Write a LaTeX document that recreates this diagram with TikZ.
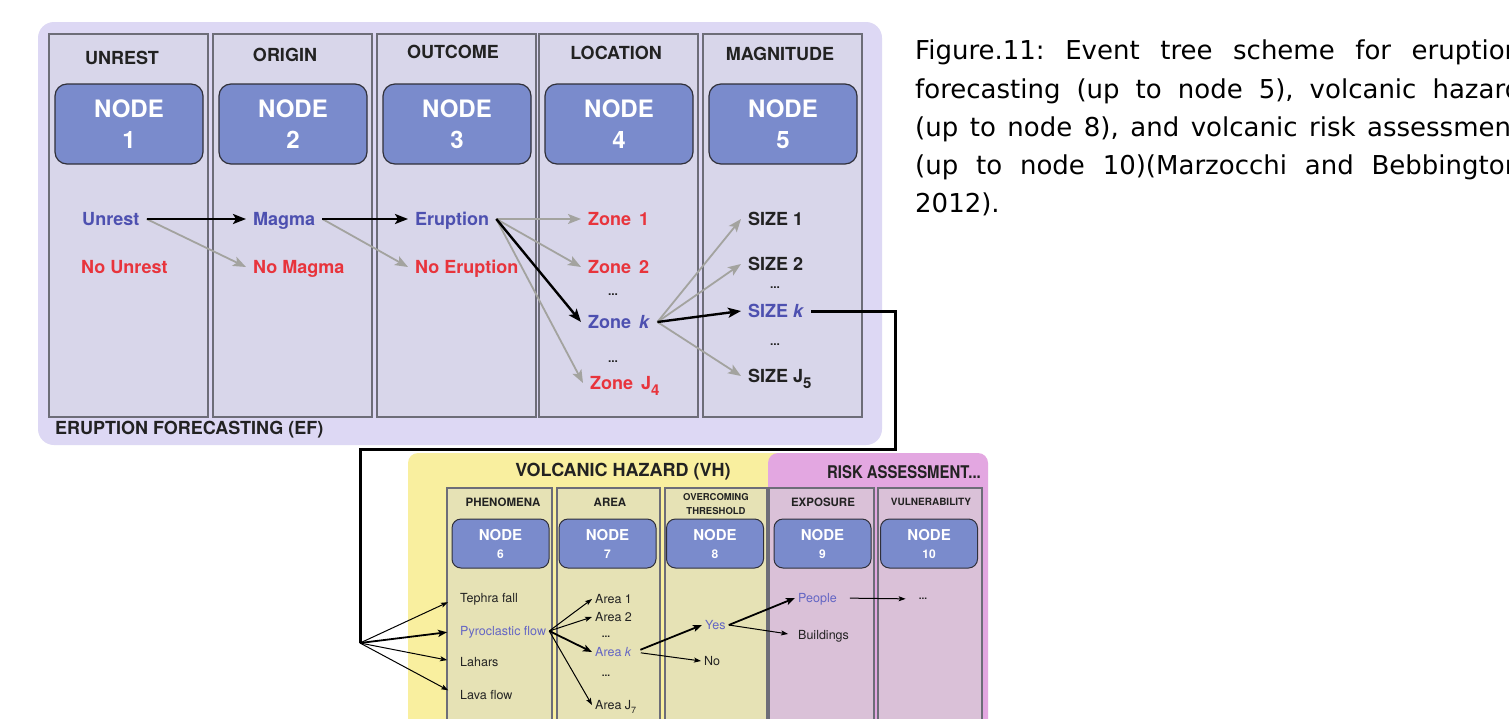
\documentclass[tikz,border=0pt]{standalone}
\usepackage{fontspec}
\setmainfont{TeX Gyre Heros}
\newfontfamily\capfont{DejaVu Sans}
\usetikzlibrary{arrows.meta}
\definecolor{lav}{HTML}{DDD8F4}
\definecolor{colfill}{HTML}{D8D6EA}
\definecolor{colborder}{HTML}{6D6D78}
\definecolor{nodefill}{HTML}{7A8BCC}
\definecolor{nodeborder}{HTML}{30303A}
\definecolor{tblue}{HTML}{4D50B0}
\definecolor{tred}{HTML}{E8343C}
\definecolor{arrgray}{HTML}{A3A39F}
\definecolor{yellowbg}{HTML}{F9EF9F}
\definecolor{ycol}{HTML}{E6E2B5}
\definecolor{pinkbg}{HTML}{E3A7E1}
\definecolor{pcol}{HTML}{DAC1D8}
\definecolor{bblue}{HTML}{6466C4}
\definecolor{hdrtext}{HTML}{222222}
\frenchspacing
\begin{document}
\begin{tikzpicture}[x=1pt,y=-1pt,
  col/.style={draw=colborder, line width=1.2pt},
  nodebox/.style={draw=nodeborder, line width=1.2pt, fill=nodefill, rounded corners=12pt,
    minimum width=148pt, minimum height=80pt, text=white, inner sep=0pt,
    font=\fontsize{24}{31}\selectfont\bfseries, align=center},
  bnodebox/.style={draw=nodeborder, line width=1pt, fill=nodefill, rounded corners=9pt,
    minimum width=97pt, minimum height=49pt, text=white, inner sep=0pt,
    font=\fontsize{15}{18}\selectfont\bfseries, align=center},
  hdr/.style={font=\fontsize{18}{20}\selectfont\bfseries, text=hdrtext, inner sep=0pt},
  bhdr/.style={font=\fontsize{11.5}{13}\selectfont\bfseries, text=hdrtext, inner sep=0pt, align=center},
  titem/.style={font=\fontsize{18}{20}\selectfont\bfseries, anchor=west, inner xsep=7pt,
    inner ysep=0pt, text height=13pt, text depth=0pt},
  tdots/.style={font=\fontsize{12}{12}\selectfont\bfseries, inner sep=1pt, text=hdrtext},
  bitem/.style={font=\fontsize{12.5}{14}\selectfont, anchor=west, inner xsep=3pt,
    inner ysep=0pt, text height=9pt, text depth=0pt, text=hdrtext},
  bdots/.style={font=\fontsize{10}{10}\selectfont\bfseries, inner sep=1pt, text=hdrtext},
  blackarr/.style={-{Stealth[length=13pt,width=10pt,inset=3pt]}, line width=2.4pt, black},
  grayarr/.style={-{Stealth[length=13pt,width=10pt,inset=3pt]}, line width=1.8pt, arrgray},
  thinarr/.style={-{Stealth[length=7pt,width=5pt,inset=1.5pt]}, line width=1pt, black},
  thickarr/.style={-{Stealth[length=9pt,width=7pt,inset=2pt]}, line width=1.8pt, black},
  capline/.style={anchor=base west, inner sep=0pt, font=\capfont\fontsize{26}{30}\selectfont, text=black}
]
\useasboundingbox (0,0) rectangle (1509,718);
\clip (0,0) rectangle (1509,718);
\fill[white] (0,0) rectangle (1509,718);

% ---------------- Top panel: eruption forecasting ----------------
\fill[lav, rounded corners=16pt] (38,22) rectangle (882,445);
\foreach \l in {49,213,377,539,703}{
  \draw[col, fill=colfill] (\l,34) rectangle ({\l+159},417);
}
\node[hdr] (h1) at (122,58) {UNREST};
\node[hdr] (h2) at (285,55) {ORIGIN};
\node[hdr] (h3) at (453,52) {OUTCOME};
\node[hdr] (h4) at (616,53) {LOCATION};
\node[hdr] (h5) at (780,54) {MAGNITUDE};

\node[nodebox] (n1) at (129,124) {NODE\\1};
\node[nodebox] (n2) at (293,124) {NODE\\2};
\node[nodebox] (n3) at (457,124) {NODE\\3};
\node[nodebox] (n4) at (619,124) {NODE\\4};
\node[nodebox] (n5) at (783,124) {NODE\\5};

\node[titem, text=tblue] (unrest) at (75,219) {Unrest};
\node[titem, text=tred] (nounrest) at (74,267) {No Unrest};
\node[titem, text=tblue] (magma) at (246,219) {Magma};
\node[titem, text=tred] (nomagma) at (246,267) {No Magma};
\node[titem, text=tblue] (eruption) at (408,219) {Eruption};
\node[titem, text=tred] (noeruption) at (408,267) {No Eruption};
\node[titem, text=tred] (zone1) at (581,219) {Zone\hspace{8pt}1};
\node[titem, text=tred] (zone2) at (581,267) {Zone\hspace{8pt}2};
\node[tdots] (zd1) at (613,295) {...};
\node[titem, text=tblue] (zonek) at (581,322) {Zone\hspace{8pt}\textit{k}};
\node[tdots] (zd2) at (613,362) {...};
\node[titem, text=tred] (zonej) at (583,383) {Zone\hspace{8pt}J\raisebox{-6pt}{\fontsize{15}{15}\selectfont 4}};
\node[titem, text=hdrtext] (size1) at (741,219) {SIZE 1};
\node[titem, text=hdrtext] (size2) at (741,264) {SIZE 2};
\node[tdots] (sd1) at (775,288) {...};
\node[titem, text=tblue] (sizek) at (741,311) {SIZE \textit{k}};
\node[tdots] (sd2) at (775,345) {...};
\node[titem, text=hdrtext] (sizej) at (741,376) {SIZE J\raisebox{-6pt}{\fontsize{15}{15}\selectfont 5}};

\node[hdr, anchor=west] (ef) at (55,430) {ERUPTION FORECASTING (EF)};

\draw[grayarr] (unrest.east) -- (nomagma.west);
\draw[blackarr] (unrest.east) -- (magma.west);
\draw[grayarr] (magma.east) -- (noeruption.west);
\draw[blackarr] (magma.east) -- (eruption.west);
\draw[grayarr] (eruption.east) -- (zone1.west);
\draw[grayarr] (eruption.east) -- (zone2.west);
\draw[grayarr] (eruption.east) -- (zonej.west);
\draw[blackarr] (eruption.east) -- (zonek.west);
\draw[grayarr] (zonek.east) -- (size1.west);
\draw[grayarr] (zonek.east) -- (size2.west);
\draw[grayarr] (zonek.east) -- (sizej.west);
\draw[blackarr] (zonek.east) -- (sizek.west);

% ---------------- Bottom panels ----------------
\fill[yellowbg, rounded corners=10pt] (408,453) rectangle (790,760);
\fill[pinkbg, rounded corners=10pt] (768,453) rectangle (988,760);
\foreach \a/\b in {447/552,557/660,665/767}{
  \draw[col, fill=ycol] (\a,488) rectangle (\b,760);
}
\foreach \a/\b in {769/874,878/982}{
  \draw[col, fill=pcol] (\a,488) rectangle (\b,760);
}
\node[hdr] (vh) at (623,472) {VOLCANIC HAZARD (VH)};
\node[hdr, anchor=east] (ra) at (981,472) {\scalebox{0.85}[1]{\fontsize{17.5}{20}\selectfont RISK ASSESSMENT...}};

\node[bhdr] (bh6) at (503,502) {PHENOMENA};
\node[bhdr] (bh7) at (610,502) {AREA};
\node[bhdr, font=\fontsize{9.5}{13.5}\selectfont\bfseries] (bh8) at (716,504) {OVERCOMING\\THRESHOLD};
\node[bhdr] (bh9) at (823,502) {EXPOSURE};
\node[bhdr, font=\fontsize{10}{12}\selectfont\bfseries] (bh10) at (931,502) {VULNERABILITY};

\node[bnodebox] (n6) at (500.5,543.5) {NODE\\{\fontsize{12}{12}\selectfont 6}};
\node[bnodebox] (n7) at (607.5,543.5) {NODE\\{\fontsize{12}{12}\selectfont 7}};
\node[bnodebox] (n8) at (715,543.5) {NODE\\{\fontsize{12}{12}\selectfont 8}};
\node[bnodebox] (n9) at (822.5,543.5) {NODE\\{\fontsize{12}{12}\selectfont 9}};
\node[bnodebox] (n10) at (929,543.5) {NODE\\{\fontsize{12}{12}\selectfont 10}};

\node[bitem] (tephra) at (457,598) {Tephra fall};
\node[bitem, text=bblue] (pyro) at (457,631) {Pyroclastic flow};
\node[bitem] (lahars) at (457,662) {Lahars};
\node[bitem] (lava) at (457,695) {Lava flow};
\node[bitem] (area1) at (592,599) {Area 1};
\node[bitem] (area2) at (592,617) {Area 2};
\node[bdots] (ad1) at (606,637) {...};
\node[bitem, text=bblue] (areak) at (592,652) {Area \textit{k}};
\node[bdots] (ad2) at (606,676) {...};
\node[bitem] (areaj) at (592,705) {Area J\raisebox{-4pt}{\fontsize{9}{9}\selectfont 7}};
\node[bitem, text=bblue] (yes) at (702,625) {Yes};
\node[bitem] (no) at (701,661) {No};
\node[bitem, text=bblue] (people) at (795,598) {People};
\node[bitem] (buildings) at (795,635) {Buildings};
\node[bdots] (pd) at (923,599) {...};

% connector from SIZE k to the phenomena fan
\coordinate (tr) at (895,449);
\coordinate (tl) at (360,449);
\coordinate (fan) at (360,643);
\draw[line width=3pt, line join=miter] (sizek.east) -| (tr) -- (tl) -- (fan);

\draw[thinarr, shorten >=10pt] (fan) -- (tephra.west);
\draw[thickarr, shorten >=10pt] (fan) -- (pyro.west);
\draw[thinarr, shorten >=10pt] (fan) -- (lahars.west);
\draw[thinarr, shorten >=10pt] (fan) -- (lava.west);

\draw[thinarr] (pyro.east) -- (area1.west);
\draw[thinarr] (pyro.east) -- (area2.west);
\draw[thinarr] (pyro.east) -- (areaj.west);
\draw[thickarr] (pyro.east) -- (areak.west);

\draw[thickarr, shorten <=6pt] (areak.east) -- (yes.west);
\draw[thinarr, shorten <=6pt] (areak.east) -- (no.west);

\draw[thickarr] (yes.east) -- (people.west);
\draw[thinarr, shorten >=7pt] (yes.east) -- (buildings.west);
\draw[thinarr, shorten <=10pt, shorten >=12pt] (people.east) -- (pd.west);

% ---------------- Caption ----------------
\node[capline] (cap1) at (915,59) {\makebox[606pt][s]{Figure.11: Event tree scheme for eruption}};
\node[capline] (cap2) at (915,98) {\makebox[606pt][s]{forecasting (up to node 5), volcanic hazard}};
\node[capline] (cap3) at (915,136) {\makebox[606pt][s]{(up to node 8), and volcanic risk assessment}};
\node[capline] (cap4) at (915,174) {\makebox[606pt][s]{(up to node 10)(Marzocchi and Bebbington}};
\node[capline] (cap5) at (915,212) {2012).};
\end{tikzpicture}
\end{document}
